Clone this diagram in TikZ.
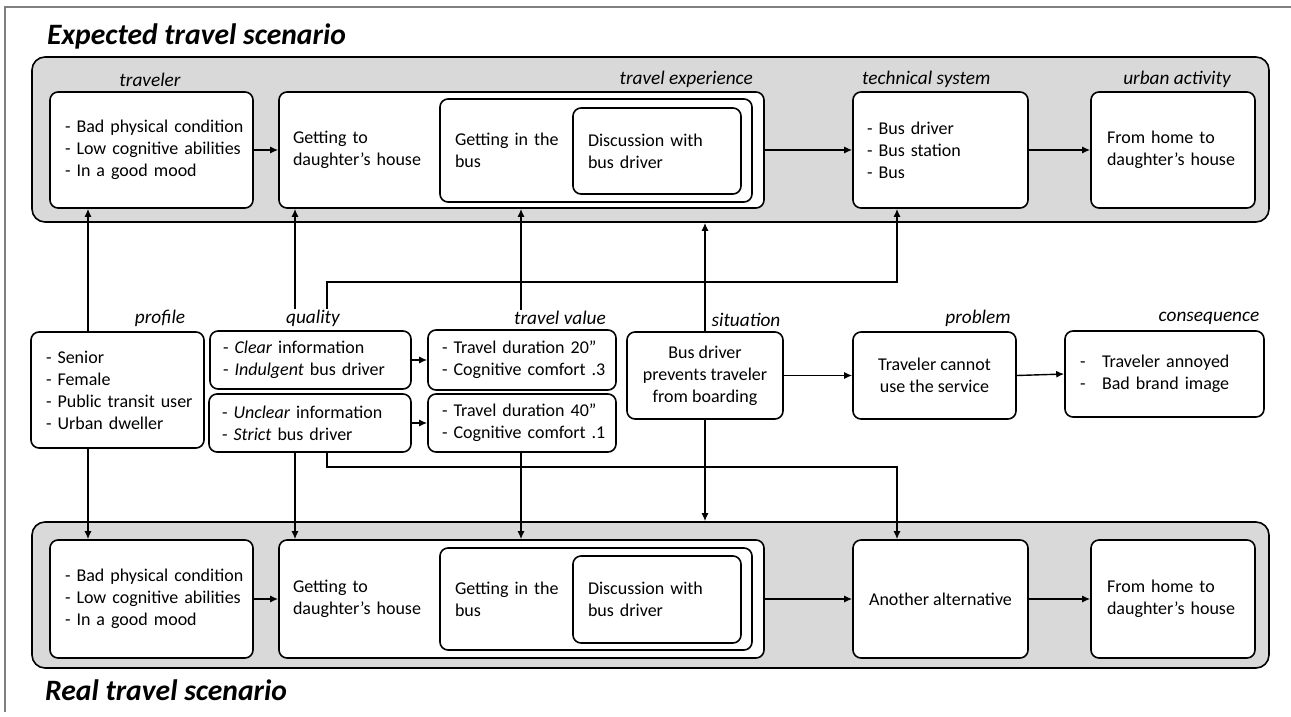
\documentclass[tikz,border=0pt]{standalone}
\usepackage{fontspec}
\setmainfont{Carlito}
\usetikzlibrary{arrows.meta,calc}
\definecolor{bandgray}{HTML}{D9D9D9}
\definecolor{framegray}{HTML}{808080}
\begin{document}
\begin{tikzpicture}[x=1pt,y=-1pt,
  box/.style={draw, line width=1.6pt, rounded corners=8pt, fill=white, inner sep=0pt, font=\fontsize{18}{22}\selectfont},
  lbox/.style={box, align=left},
  cbox/.style={box, align=center},
  band/.style={draw, line width=1.6pt, rounded corners=13pt, fill=bandgray, inner sep=0pt},
  lab/.style={font=\fontsize{19.3}{22}\selectfont\itshape, inner sep=1pt},
  arr/.style={line width=1.4pt, -{Latex[length=8pt,width=7pt]}},
  title/.style={font=\fontsize{29.6}{34}\selectfont\bfseries\itshape, anchor=west, inner sep=0pt}
]
\useasboundingbox (0,0) rectangle (1291,716);
% frame
\draw[framegray, line width=1.2pt] (5,712) -- (5,7) -- (1291,7);

% titles
\node[title] (t1) at (47,36) {Expected travel scenario};
\node[title] (t2) at (45,690) {Real travel scenario};

% bands
\node[band, minimum width=1237, minimum height=165] (b1) at (650.5,139.5) {};
\node[band, minimum width=1237, minimum height=146] (b2) at (650.5,595) {};

% expected scenario
\node[lbox, minimum width=203, minimum height=116, text width=173, inner xsep=15] (trav) at (151.5,150)
  {\mbox{- Bad physical condition}\\\mbox{- Low cognitive abilities}\\- In a good mood};
\node[lbox, minimum width=485, minimum height=116, text width=457, inner xsep=14] (texp) at (521.5,150)
  {Getting to\\daughter’s house};
\node[lbox, minimum width=312, minimum height=103, text width=282, inner xsep=15] (bus) at (596,150.5)
  {Getting in the\\bus};
\node[lbox, minimum width=168, minimum height=86, text width=138, inner xsep=15] (disc) at (657,151)
  {\mbox{Discussion with}\\bus driver};
\node[lbox, minimum width=175, minimum height=116, text width=147, inner xsep=14] (tech) at (940.5,150)
  {- Bus driver\\- Bus station\\- Bus};
\node[lbox, minimum width=164, minimum height=116, text width=132, inner xsep=16] (urb) at (1173,150)
  {From home to\\\mbox{daughter’s house}};

\node[lab] (ltrav) at (150,80) {traveler};
\node[lab, anchor=east] (ltexp) at (754,79) {travel experience};
\node[lab, anchor=west] (ltech) at (861,79) {technical system};
\node[lab] (lurb) at (1177,79) {urban activity};

% middle row
\node[lbox, minimum width=173, minimum height=116, text width=143, inner xsep=15] (prof) at (117.5,390)
  {- Senior\\- Female\\\mbox{- Public transit user}\\- Urban dweller};
\node[lbox, minimum width=201, minimum height=58, text width=175, inner xsep=13] (q1) at (310.5,360)
  {\mbox{- \textit{Clear} information}\\\mbox{- \textit{Indulgent} bus driver}};
\node[lbox, minimum width=202, minimum height=58, text width=176, inner xsep=13] (q2) at (310,423)
  {\mbox{- \textit{Unclear} information}\\\mbox{- \textit{Strict} bus driver}};
\node[lbox, minimum width=188, minimum height=60, text width=160, inner xsep=14] (tv1) at (522,360)
  {\mbox{- Travel duration 20”}\\\mbox{- Cognitive comfort .3}};
\node[lbox, minimum width=188, minimum height=58, text width=160, inner xsep=14] (tv2) at (522,423)
  {\mbox{- Travel duration 40”}\\\mbox{- Cognitive comfort .1}};
\node[cbox, minimum width=156, minimum height=87] (sit) at (705,375.5)
  {Bus driver\\prevents traveler\\from boarding};
\node[cbox, minimum width=163, minimum height=87] (prob) at (934.5,375.5)
  {Traveler cannot\\use the service};
\node[lbox, minimum width=199, minimum height=86, text width=169, inner xsep=15] (cons) at (1164.5,374)
  {\makebox[22pt][l]{-}Traveler annoyed\\\makebox[22pt][l]{-}Bad brand image};

\node[lab] (lprof) at (160,318) {profile};
\node[lab] (lqual) at (313,318) {quality};
\node[lab] (ltv) at (560,318) {travel value};
\node[lab] (lsit) at (746,320) {situation};
\node[lab] (lprob) at (978,318) {problem};
\node[lab] (lcons) at (1209,318) {consequence};

% real scenario
\node[lbox, minimum width=203, minimum height=118, text width=173, inner xsep=15] (rtrav) at (151.5,599)
  {\mbox{- Bad physical condition}\\\mbox{- Low cognitive abilities}\\- In a good mood};
\node[lbox, minimum width=485, minimum height=118, text width=457, inner xsep=14] (rtexp) at (521.5,599)
  {Getting to\\daughter’s house};
\node[lbox, minimum width=312, minimum height=102, text width=282, inner xsep=15] (rbus) at (596,599)
  {Getting in the\\bus};
\node[lbox, minimum width=168, minimum height=87, text width=138, inner xsep=15] (rdisc) at (657,599.5)
  {\mbox{Discussion with}\\bus driver};
\node[cbox, minimum width=175, minimum height=118] (ralt) at (940.5,599)
  {Another alternative};
\node[lbox, minimum width=164, minimum height=118, text width=132, inner xsep=16] (rhome) at (1173,599)
  {From home to\\\mbox{daughter’s house}};

% helper coordinates
\coordinate (xp) at (88,0);
\coordinate (xq) at (295,0);
\coordinate (xq2) at (327,0);
\coordinate (xt) at (897,0);
\coordinate (xv) at (521,0);
\coordinate (hy1) at (0,282);
\coordinate (hy2) at (0,467);

% horizontal connectors
\draw[arr] (trav.east) -- (texp.west);
\draw[arr] (texp.east) -- (tech.west);
\draw[arr] (tech.east) -- (urb.west);
\draw[arr] (q1.east) -- (tv1.west);
\draw[arr] (q2.east) -- (tv2.west);
\draw[arr] (sit.east) -- (prob.west);
\draw[arr] (prob.east) -- (cons.west);
\draw[arr] (rtrav.east) -- (rtexp.west);
\draw[arr] (rtexp.east) -- (ralt.west);
\draw[arr] (ralt.east) -- (rhome.west);

% vertical connectors
\draw[arr] (xp |- prof.north) -- (xp |- trav.south);
\draw[arr] (xp |- prof.south) -- (xp |- rtrav.north);
\draw[arr] (xq |- lqual.north) -- (xq |- texp.south);
\draw[arr] (xq2 |- lqual.north) -- (xq2 |- hy1) -| (xt |- tech.south);
\draw[arr] (xv |- ltv.north) -- (xv |- texp.south);
\draw[arr] (sit.north) -- (sit.north |- b1.south);
\draw[arr] (sit.south) -- (sit.south |- b2.north);
\draw[arr] (xq |- q2.south) -- (xq |- rtexp.north);
\draw[arr] (xq2 |- q2.south) -- (xq2 |- hy2) -| (xt |- ralt.north);
\draw[arr] (xv |- tv2.south) -- (xv |- rtexp.north);
\end{tikzpicture}
\end{document}
